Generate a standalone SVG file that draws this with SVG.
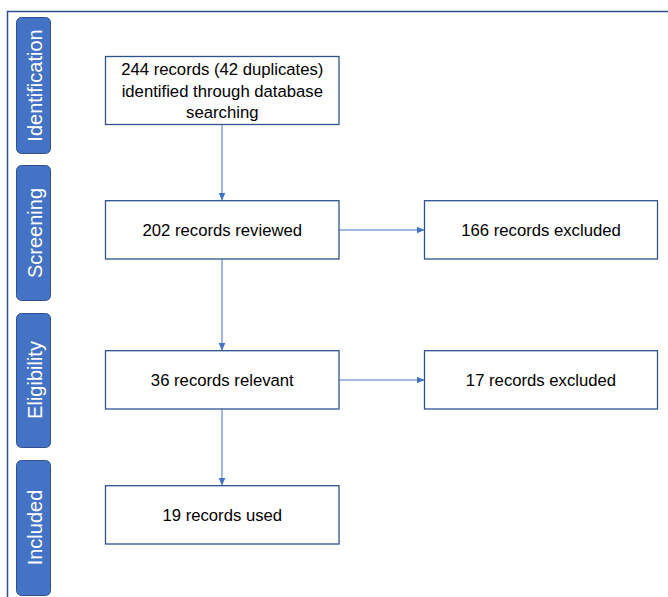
<svg xmlns="http://www.w3.org/2000/svg" width="668" height="597" viewBox="0 0 668 597">
<defs>
<marker id="ah" viewBox="0 0 8 8" refX="8" refY="4" markerWidth="8" markerHeight="8" markerUnits="userSpaceOnUse" orient="auto">
<path d="M0,0.5 L8,4 L0,7.5 Z" fill="#4472C4"/>
</marker>
<style>
.bar{fill:#4472C4;stroke:#2F528F;stroke-width:1}
.bl{font-family:"Liberation Sans",Arial,sans-serif;font-size:20px;fill:#FFFFFF;text-anchor:middle}
.box{fill:#FFFFFF;stroke:#2F528F;stroke-width:1.3}
.t{font-family:"Liberation Sans",Arial,sans-serif;font-size:16.7px;fill:#000000;text-anchor:middle}
.c{stroke:#4472C4;stroke-width:1;fill:none;marker-end:url(#ah)}
</style>
</defs>
<rect width="668" height="597" fill="#FFFFFF"/>
<path d="M7.5,597 L7.5,11.5 L668,11.5" fill="none" stroke="#2F528F" stroke-width="1.5"/>
<g id="stage-identification">
<rect class="bar" x="16.5" y="17.5" width="34" height="136" rx="5"/>
<text class="bl" transform="translate(41.5,85.5) rotate(-90)">Identification</text>
</g>
<g id="stage-screening">
<rect class="bar" x="16.5" y="165.5" width="34" height="135" rx="5"/>
<text class="bl" transform="translate(41.5,233) rotate(-90)">Screening</text>
</g>
<g id="stage-eligibility">
<rect class="bar" x="16.5" y="313.5" width="34" height="134" rx="5"/>
<text class="bl" transform="translate(41.5,380) rotate(-90)">Eligibility</text>
</g>
<g id="stage-included">
<rect class="bar" x="16.5" y="460.5" width="34" height="135" rx="5"/>
<text class="bl" transform="translate(41.5,527.5) rotate(-90)">Included</text>
</g>
<g id="connectors">
<line class="c" x1="222" y1="124.5" x2="222" y2="200.5"/>
<line class="c" x1="222" y1="259" x2="222" y2="350.5"/>
<line class="c" x1="222" y1="409" x2="222" y2="485.5"/>
<line class="c" x1="339" y1="230" x2="424.5" y2="230"/>
<line class="c" x1="339" y1="380" x2="424.5" y2="380"/>
</g>
<g id="n-identified">
<rect class="box" x="105.5" y="56.5" width="233.5" height="68"/>
<text class="t" x="222.3" y="75">244 records (42 duplicates)</text>
<text class="t" x="222.3" y="96.5">identified through database</text>
<text class="t" x="222.3" y="118">searching</text>
</g>
<g id="n-reviewed">
<rect class="box" x="105.5" y="200.7" width="233.5" height="58.3"/>
<text class="t" x="222.3" y="236">202 records reviewed</text>
</g>
<g id="n-excluded1">
<rect class="box" x="424.5" y="200.7" width="233" height="58.3"/>
<text class="t" x="541" y="236">166 records excluded</text>
</g>
<g id="n-relevant">
<rect class="box" x="105.5" y="350.7" width="233.5" height="58.3"/>
<text class="t" x="222.3" y="386">36 records relevant</text>
</g>
<g id="n-excluded2">
<rect class="box" x="424.5" y="350.7" width="233" height="58.3"/>
<text class="t" x="541" y="386">17 records excluded</text>
</g>
<g id="n-used">
<rect class="box" x="105.5" y="485.7" width="233.5" height="58.3"/>
<text class="t" x="222.3" y="521">19 records used</text>
</g>
</svg>
